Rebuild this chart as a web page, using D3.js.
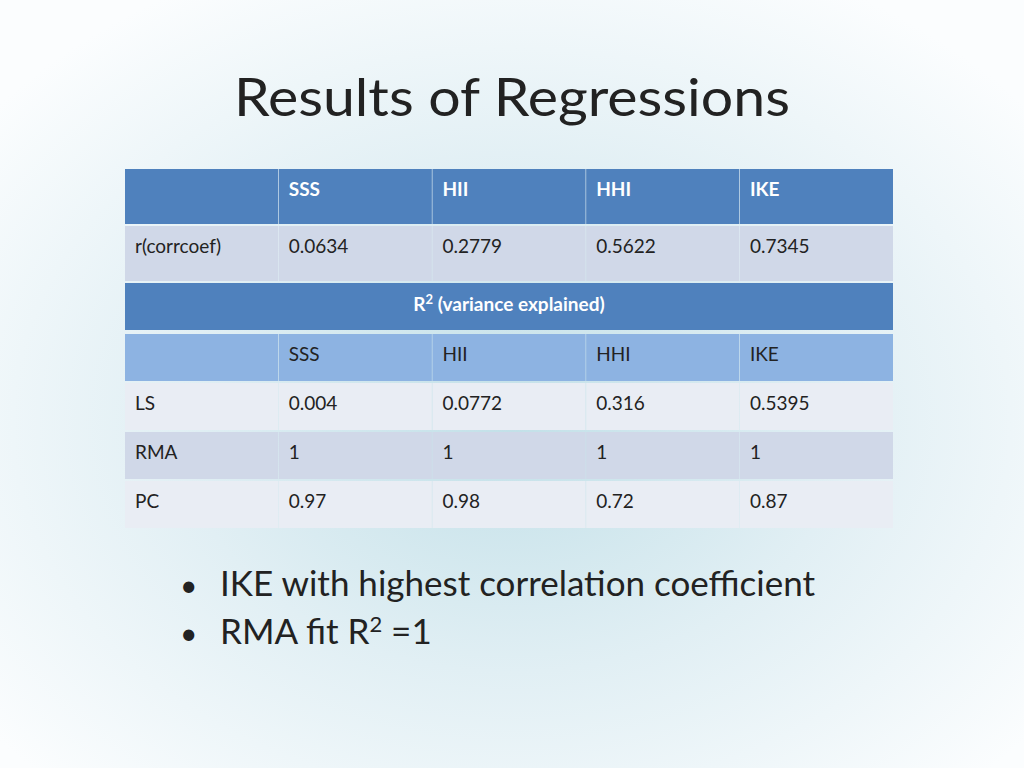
<!DOCTYPE html>
<html><head><meta charset="utf-8">
<script src="https://cdn.jsdelivr.net/npm/d3@7"></script>
<style>body{margin:0;overflow:hidden}</style>
</head><body>
<script>
var W = 1024, H = 768;
var columns = ["", "SSS", "HII", "HHI", "IKE"];
var corrRow = ["r(corrcoef)", "0.0634", "0.2779", "0.5622", "0.7345"];
var r2Label = "(variance explained)";
var r2Rows = [
    ["LS", "0.004", "0.0772", "0.316", "0.5395"],
    ["RMA", "1", "1", "1", "1"],
    ["PC", "0.97", "0.98", "0.72", "0.87"]
];
var bullets = ["IKE with highest correlation coefficient", "RMA fit R"];

var font = "Lato, 'Liberation Sans', sans-serif";
var svg = d3.select("body").append("svg").attr("width", W).attr("height", H);

// background gradient
var defs = svg.append("defs");
var g1 = defs.append("radialGradient").attr("id", "bg").attr("cx", "50%").attr("cy", "55%").attr("r", "65%");
g1.append("stop").attr("offset", "0%").attr("stop-color", "#c2e0e8");
g1.append("stop").attr("offset", "50%").attr("stop-color", "#e1eff4");
g1.append("stop").attr("offset", "100%").attr("stop-color", "#fbfdfe");
svg.append("rect").attr("width", W).attr("height", H).attr("fill", "url(#bg)");

svg.append("text").attr("x", 512).attr("y", 116).attr("text-anchor", "middle")
    .style("font-family", font).style("font-size", "52px").attr("fill", "#222")
    .attr("textLength", 556).attr("lengthAdjust", "spacingAndGlyphs").text("Results of Regressions");

var x = d3.scaleBand().domain(d3.range(columns.length)).range([125, 893]).paddingInner(0.004);

var rows = [
    { y0: 169, y1: 224, cells: columns, fill: "#4f81bd", color: "#fff", bold: true },
    { y0: 226, y1: 281, cells: corrRow, fill: "#d0d8e8", color: "#222", bold: false },
    { y0: 334, y1: 381, cells: columns, fill: "#8db3e2", color: "#222", bold: false },
    { y0: 383, y1: 430, cells: r2Rows[0], fill: "#e9edf4", color: "#222", bold: false },
    { y0: 432, y1: 479, cells: r2Rows[1], fill: "#d0d8e8", color: "#222", bold: false },
    { y0: 481, y1: 528, cells: r2Rows[2], fill: "#e9edf4", color: "#222", bold: false }
];

rows.forEach(function (r) {
    var g = svg.append("g");
    g.selectAll("rect").data(r.cells).enter().append("rect")
        .attr("x", function (d, i) { return x(i); })
        .attr("y", r.y0).attr("width", x.bandwidth()).attr("height", r.y1 - r.y0)
        .attr("fill", r.fill);
    g.selectAll("text").data(r.cells).enter().append("text")
        .attr("x", function (d, i) { return x(i) + 10; })
        .attr("y", r.y0 + 27)
        .style("font-family", font).style("font-size", "19px")
        .style("font-weight", r.bold ? "bold" : "normal")
        .attr("fill", r.color).text(function (d) { return d; });
});

// R2 band
svg.append("rect").attr("x", 125).attr("y", 283).attr("width", 768).attr("height", 47).attr("fill", "#4f81bd");
var t = svg.append("text").attr("x", 509).attr("y", 311).attr("text-anchor", "middle")
    .style("font-family", font).style("font-size", "19px").style("font-weight", "bold").attr("fill", "#fff");
t.append("tspan").text("R");
t.append("tspan").attr("dy", -7).style("font-size", "13px").text("2");
t.append("tspan").attr("dy", 7).text(" " + r2Label);

// bullets
bullets.forEach(function (b, i) {
    var y = 596 + i * 48;
    svg.append("text").attr("x", 180).attr("y", y).style("font-family", font)
        .style("font-size", "30px").attr("fill", "#222").text("•");
    var tt = svg.append("text").attr("x", 220).attr("y", y).style("font-family", font)
        .style("font-size", "35px").attr("fill", "#222");
    tt.append("tspan").text(b);
    if (i === 1) {
        tt.append("tspan").attr("dy", -12).style("font-size", "22px").text("2");
        tt.append("tspan").attr("dy", 12).text(" =1");
    }
});
</script>
</body></html>
